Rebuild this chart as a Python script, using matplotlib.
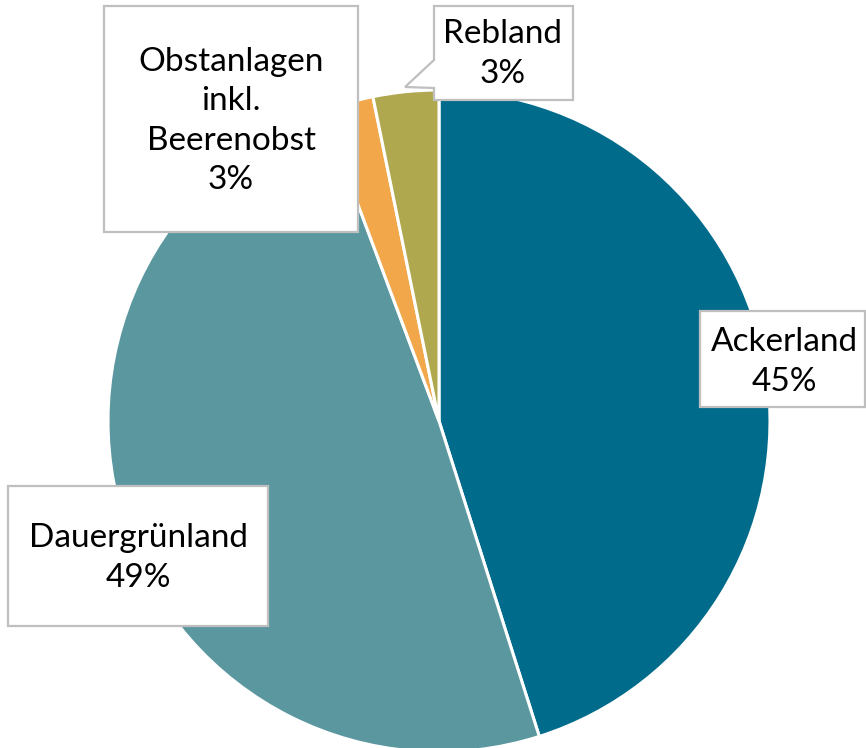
import matplotlib
matplotlib.use('Agg')
from matplotlib import pyplot as plt
from matplotlib.patches import Rectangle, Polygon

# Flächenanteile (Prozent)
categories = ['Ackerland', 'Dauergrünland', 'Obstanlagen\ninkl.\nBeerenobst', 'Rebland']
shares = [45.1, 49.2, 2.5, 3.2]
labels = ['45%', '49%', '3%', '3%']
colors = ['#006B8B', '#5B979F', '#F2A74A', '#AFA84F']

plt.rcParams['font.family'] = ['Lato', 'DejaVu Sans']

W, H = 866, 748
fig = plt.figure(figsize=(W / 100, H / 100), dpi=100)
ax = fig.add_axes([0, 0, 1, 1])

# pie in pixel coordinates (y measured from the bottom)
cx, cy, r = 439, H - 421, 331
ax.pie(shares, colors=colors, startangle=90, counterclock=False,
       center=(cx, cy), radius=r, frame=True,
       wedgeprops=dict(edgecolor='white', linewidth=2.2))
ax.set_xlim(0, W)
ax.set_ylim(0, H)
ax.axis('off')


def box(x0, y0, x1, y1):
    # label box, given in image pixel coords (top-left origin)
    ax.add_patch(Rectangle((x0, H - y1), x1 - x0, y1 - y0, facecolor='white',
                           edgecolor='#BFBFBF', linewidth=1.6, zorder=5))


def label(x, y, txt):
    ax.text(x, H - y, txt, ha='center', va='center', fontsize=24,
            linespacing=1.38, color='black', zorder=6)


# Ackerland
box(700, 311, 865, 407)
label(784, 362, categories[0] + '\n' + labels[0])

# Dauergrünland
box(8, 486, 268, 626)
label(138, 558, categories[1] + '\n' + labels[1])

# Obstanlagen
box(104, 6, 358, 232)
label(231, 121, categories[2] + '\n' + labels[2])

# Rebland callout with pointer
pts = [(434, 6), (573, 6), (573, 100), (434, 100), (434, 88), (405, 87), (434, 60)]
ax.add_patch(Polygon([(x, H - y) for x, y in pts], closed=True, facecolor='white',
                     edgecolor='#BFBFBF', linewidth=1.6, zorder=5))
label(503, 54, categories[3] + '\n' + labels[3])

fig.savefig('out.png', dpi=100)
